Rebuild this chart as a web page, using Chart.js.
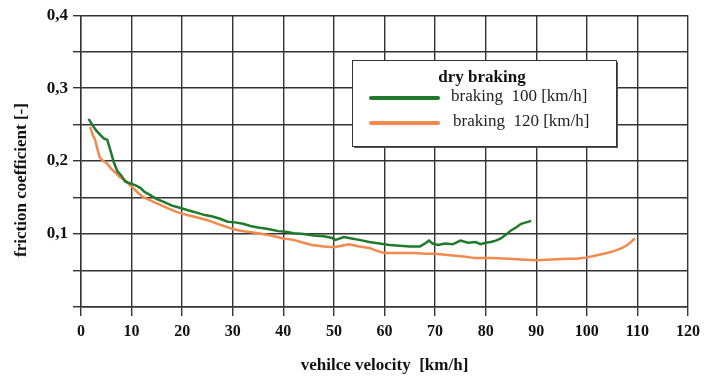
<!DOCTYPE html>
<html>
<head>
<meta charset="utf-8">
<script src="https://cdn.jsdelivr.net/npm/chart.js@4"></script>
<style>
  html, body { margin: 0; padding: 0; background: #fff; }
  #wrap { width: 706px; height: 376px; }
</style>
</head>
<body>
<div id="wrap"><canvas id="frictionChart" width="706" height="376"></canvas></div>
<script>
// velocity [km/h] and friction coefficient
const speed100 = [1.5, 2.2, 3, 3.8, 4.5, 5.2, 5.8, 6.5, 7.2, 8, 8.7, 9.5, 10.3, 11, 11.8, 12.5, 13.3, 14, 15, 16, 17, 18, 19, 20, 21.5, 23, 24.5, 26, 27.5, 29, 30.5, 32, 33.5, 35, 37, 39, 40.5, 42, 44, 46, 48, 49.5, 50.3, 52, 53.5, 55, 57, 59, 61, 63, 65, 67, 68, 68.8, 69.5, 70.6, 72, 73.5, 75, 76.5, 78, 79, 80, 81, 82, 83, 84, 85, 86, 87, 88, 89];
const mu100 = [0.258, 0.25, 0.242, 0.236, 0.231, 0.229, 0.215, 0.198, 0.186, 0.18, 0.172, 0.17, 0.168, 0.166, 0.163, 0.158, 0.155, 0.152, 0.148, 0.145, 0.142, 0.139, 0.137, 0.135, 0.132, 0.129, 0.126, 0.124, 0.121, 0.117, 0.116, 0.114, 0.111, 0.109, 0.107, 0.104, 0.103, 0.101, 0.1, 0.098, 0.097, 0.095, 0.092, 0.096, 0.094, 0.092, 0.089, 0.087, 0.085, 0.084, 0.083, 0.083, 0.087, 0.091, 0.087, 0.085, 0.087, 0.086, 0.091, 0.088, 0.089, 0.086, 0.088, 0.089, 0.091, 0.094, 0.099, 0.105, 0.109, 0.114, 0.116, 0.118];

const speed120 = [1.8, 2.3, 2.8, 3.3, 3.7, 4.4, 5.1, 5.9, 6.7, 7.7, 8.7, 9.5, 10.2, 11.2, 12.2, 13.5, 15, 17, 19, 21, 23.4, 25, 27, 28.7, 30, 31.3, 33, 35, 37.5, 40, 42, 44, 45.7, 48, 50, 51.5, 53, 55, 57, 58.5, 60, 63, 66, 68, 70, 73, 76, 78, 81, 84.5, 87, 90, 93, 96, 98, 100, 102, 104, 105.5, 107, 108, 108.7, 109.5];
const mu120 = [0.247, 0.236, 0.229, 0.215, 0.205, 0.2, 0.197, 0.19, 0.185, 0.178, 0.174, 0.168, 0.164, 0.157, 0.151, 0.147, 0.142, 0.136, 0.13, 0.126, 0.122, 0.119, 0.114, 0.11, 0.107, 0.105, 0.103, 0.101, 0.098, 0.094, 0.092, 0.088, 0.085, 0.083, 0.082, 0.084, 0.086, 0.083, 0.081, 0.077, 0.074, 0.074, 0.074, 0.073, 0.073, 0.071, 0.069, 0.067, 0.067, 0.066, 0.065, 0.064, 0.065, 0.066, 0.066, 0.068, 0.071, 0.074, 0.077, 0.081, 0.085, 0.089, 0.094];

const seriesLabels = ['braking  100 [km/h]', 'braking  120 [km/h]'];
const legendTitle = 'dry braking';
const xTitle = 'vehilce velocity  [km/h]';
const yTitle = 'friction coefficient [-]';

const serif = '"Liberation Serif", "DejaVu Serif", serif';
const gridColor = '#333';

function toPoints(xs, ys) {
    return xs.map((x, i) => ({ x: x, y: ys[i] }));
}

// legend box + y title drawn by hand, like the original figure
const extrasPlugin = {
    id: 'extras',
    afterDraw(chart) {
        const ctx = chart.ctx;
        ctx.save();

        // y axis title
        ctx.translate(22, 180);
        ctx.rotate(-Math.PI / 2);
        ctx.font = 'bold 17px ' + serif;
        ctx.fillStyle = '#111';
        ctx.textAlign = 'center';
        ctx.textBaseline = 'middle';
        ctx.fillText(yTitle, 0, 0);
        ctx.restore();

        // legend box
        ctx.save();
        const bx = 352, by = 60, bw = 264, bh = 86;
        ctx.fillStyle = '#555';
        ctx.fillRect(bx + 2, by + 2, bw, bh);
        ctx.fillStyle = '#fff';
        ctx.fillRect(bx, by, bw, bh);
        ctx.strokeStyle = '#333';
        ctx.lineWidth = 1;
        ctx.strokeRect(bx + 0.5, by + 0.5, bw, bh);

        ctx.fillStyle = '#111';
        ctx.textBaseline = 'middle';
        ctx.textAlign = 'center';
        ctx.font = 'bold 17px ' + serif;
        ctx.fillText(legendTitle, 482, 78);

        ctx.textAlign = 'left';
        ctx.font = '17px ' + serif;
        const rows = [97, 122];
        chart.data.datasets.forEach((ds, i) => {
            ctx.strokeStyle = ds.borderColor;
            ctx.lineWidth = 4;
            ctx.lineCap = 'round';
            ctx.beginPath();
            ctx.moveTo(371, rows[i] + 1);
            ctx.lineTo(438, rows[i] + 1);
            ctx.stroke();
            ctx.fillStyle = '#222';
            ctx.fillText(ds.label, 451 + i * 2, rows[i]);
        });
        ctx.restore();
    }
};

const ctx = document.getElementById('frictionChart').getContext('2d');
new Chart(ctx, {
    type: 'line',
    data: {
        datasets: [
            {
                label: seriesLabels[0],
                data: toPoints(speed100, mu100),
                borderColor: '#1f7a2a',
                borderWidth: 2.5,
                pointRadius: 0,
                tension: 0
            },
            {
                label: seriesLabels[1],
                data: toPoints(speed120, mu120),
                borderColor: '#f28a4e',
                borderWidth: 2.5,
                pointRadius: 0,
                tension: 0
            }
        ]
    },
    options: {
        responsive: false,
        animation: false,
        layout: { padding: { top: 14, right: 15, left: 0, bottom: 0 } },
        plugins: {
            legend: { display: false },
            tooltip: { enabled: false }
        },
        scales: {
            x: {
                type: 'linear',
                min: 0,
                max: 120,
                ticks: {
                    stepSize: 10,
                    padding: 6,
                    color: '#111',
                    font: { family: serif, size: 16, weight: 'bold' }
                },
                grid: { color: gridColor, lineWidth: 1.4, tickLength: 9 },
                border: { color: gridColor, width: 1.4 },
                title: {
                    display: true,
                    text: xTitle,
                    color: '#111',
                    font: { family: serif, size: 17, weight: 'bold' },
                    padding: { top: 0, bottom: 0 }
                },
                afterFit(scale) { scale.height = 69; }
            },
            y: {
                min: 0,
                max: 0.4,
                ticks: {
                    stepSize: 0.05,
                    padding: 5,
                    color: '#111',
                    font: { family: serif, size: 17, weight: 'bold' },
                    callback(value) {
                        const v = Math.round(value * 100);
                        if (v === 0 || v % 10 !== 0) return '';
                        return (v / 100).toFixed(1).replace('.', ',');
                    }
                },
                grid: { color: gridColor, lineWidth: 1.4, tickLength: 8 },
                border: { color: gridColor, width: 1.4 },
                afterFit(scale) { scale.width = 81; }
            }
        }
    },
    plugins: [extrasPlugin]
});
</script>
</body>
</html>
